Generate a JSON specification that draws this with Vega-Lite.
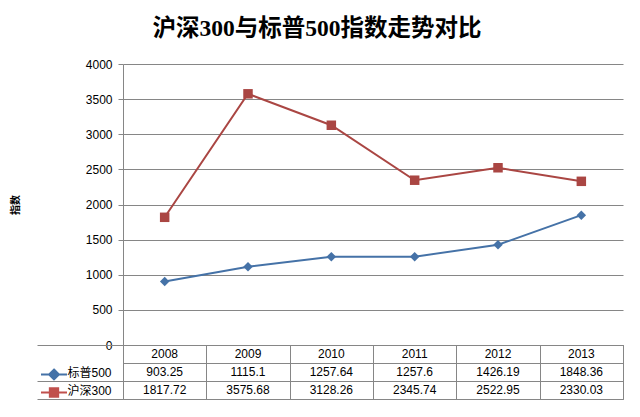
{
  "$schema": "https://vega.github.io/schema/vega-lite/v6.json",
  "padding": {"left": 10, "top": 16, "right": 17, "bottom": 5},
  "background": "#ffffff",
  "title": {
    "text": "沪深300与标普500指数走势对比",
    "font": "Liberation Serif, Noto Sans CJK SC",
    "fontSize": 23.5,
    "fontWeight": "bold",
    "color": "#000000",
    "anchor": "middle",
    "offset": 18
  },
  "datasets": {
    "d": [
      {"year": "2008", "series": "标普500", "value": 903.25},
      {"year": "2009", "series": "标普500", "value": 1115.1},
      {"year": "2010", "series": "标普500", "value": 1257.64},
      {"year": "2011", "series": "标普500", "value": 1257.6},
      {"year": "2012", "series": "标普500", "value": 1426.19},
      {"year": "2013", "series": "标普500", "value": 1848.36},
      {"year": "2008", "series": "沪深300", "value": 1817.72},
      {"year": "2009", "series": "沪深300", "value": 3575.68},
      {"year": "2010", "series": "沪深300", "value": 3128.26},
      {"year": "2011", "series": "沪深300", "value": 2345.74},
      {"year": "2012", "series": "沪深300", "value": 2522.95},
      {"year": "2013", "series": "沪深300", "value": 2330.03}
    ]
  },
  "spacing": 0,
  "bounds": "flush",
  "resolve": {
    "scale": {"shape": "independent", "color": "independent", "fill": "independent", "stroke": "independent"},
    "legend": {"shape": "independent", "color": "independent", "fill": "independent", "stroke": "independent"}
  },
  "vconcat": [
    {
      "width": 500,
      "height": 281,
      "view": {"stroke": null},
      "data": {"name": "d"},
      "encoding": {
        "x": {"field": "year", "type": "ordinal", "scale": {"type": "point", "padding": 0.5}, "axis": null},
        "y": {
          "field": "value", "type": "quantitative",
          "scale": {"domain": [0, 4000], "nice": false, "zero": true},
          "axis": {
            "values": [0, 500, 1000, 1500, 2000, 2500, 3000, 3500, 4000],
            "format": "d",
            "title": "指数",
            "titleFont": "Noto Sans CJK SC",
            "titleFontSize": 10,
            "titleFontWeight": "bold",
            "titleColor": "#000000",
            "titlePadding": 65,
            "labelFont": "Liberation Sans",
            "labelFontSize": 12,
            "labelColor": "#000000",
            "labelPadding": 6,
            "tickSize": 5,
            "tickColor": "#868686",
            "domainColor": "#868686",
            "grid": true,
            "gridColor": "#868686",
            "gridWidth": 1
          }
        },
        "color": {
          "field": "series", "type": "nominal",
          "scale": {"domain": ["标普500", "沪深300"], "range": ["#4572A7", "#AA4643"]},
          "legend": null
        }
      },
      "layer": [
        {"mark": {"type": "line", "strokeWidth": 2}},
        {
          "mark": {"type": "point", "filled": true, "opacity": 1, "size": 90},
          "encoding": {
            "shape": {
              "field": "series", "type": "nominal",
              "scale": {"domain": ["标普500", "沪深300"], "range": ["diamond", "square"]},
              "legend": null
            }
          }
        }
      ]
    },
    {
      "width": 500,
      "height": 54,
      "view": {"stroke": "#868686"},
      "data": {"name": "d"},
      "resolve": {
        "scale": {"fill": "independent", "stroke": "independent"},
        "legend": {"fill": "independent", "stroke": "independent"}
      },
      "encoding": {
        "x": {
          "field": "year", "type": "ordinal",
          "scale": {"type": "band", "paddingInner": 0, "paddingOuter": 0},
          "axis": {"orient": "top", "grid": true, "tickBand": "extent", "labels": false, "ticks": false, "domain": false, "gridColor": "#868686", "title": null}
        }
      },
      "layer": [
        {
          "mark": {"type": "text", "font": "Liberation Sans", "fontSize": 12, "color": "#000000"},
          "encoding": {
            "y": {
              "field": "series", "type": "nominal",
              "scale": {"domain": ["hdr", "标普500", "沪深300"], "paddingInner": 0, "paddingOuter": 0},
              "axis": {
                "title": null,
                "domain": false,
                "grid": true,
                "gridColor": "#868686",
                "tickBand": "extent",
                "tickSize": 86,
                "tickColor": "#868686",
                "tickOpacity": {"condition": {"test": "datum.value === 'hdr'", "value": 0}, "value": 1},
                "labelExpr": "datum.value === 'hdr' ? '' : datum.value",
                "labelAlign": "left",
                "labelPadding": -30,
                "labelFont": "Liberation Sans, Noto Sans CJK SC",
                "labelFontSize": 12,
                "labelColor": "#000000"
              }
            },
            "text": {"field": "value", "type": "nominal"}
          }
        },
        {
          "transform": [{"filter": "datum.series === '标普500'"}],
          "mark": {"type": "text", "font": "Liberation Sans", "fontSize": 12, "color": "#000000"},
          "encoding": {
            "y": {"datum": "hdr", "type": "nominal"},
            "text": {"field": "year", "type": "nominal"}
          }
        },
        {
          "transform": [{"filter": "datum.year === '2008' && datum.series === '标普500'"}],
          "mark": {"type": "point", "filled": true, "opacity": 0},
          "encoding": {
            "y": {"field": "series", "type": "nominal"},
            "fill": {
              "field": "series", "type": "nominal",
              "scale": {"domain": ["标普500"], "range": ["#4572A7"]},
              "legend": {"orient": "none", "legendX": -76.5, "legendY": 22, "title": null, "labelExpr": "''", "labelFontSize": 8, "symbolType": "M-2,0H2M0,-0.76L0.76,0L0,0.76L-0.76,0Z", "symbolSize": 169, "symbolStrokeWidth": 2, "symbolOpacity": 1, "padding": 0}
            },
            "stroke": {
              "field": "series", "type": "nominal",
              "scale": {"domain": ["标普500"], "range": ["#4572A7"]},
              "legend": {"orient": "none", "legendX": -76.5, "legendY": 22, "title": null, "labelExpr": "''", "labelFontSize": 8, "symbolType": "M-2,0H2M0,-0.76L0.76,0L0,0.76L-0.76,0Z", "symbolSize": 169, "symbolStrokeWidth": 2, "symbolOpacity": 1, "padding": 0}
            }
          }
        },
        {
          "transform": [{"filter": "datum.year === '2008' && datum.series === '沪深300'"}],
          "mark": {"type": "point", "filled": true, "opacity": 0},
          "encoding": {
            "y": {"field": "series", "type": "nominal"},
            "fill": {
              "field": "series", "type": "nominal",
              "scale": {"domain": ["沪深300"], "range": ["#C0504D"]},
              "legend": {"orient": "none", "legendX": -76.5, "legendY": 40, "title": null, "labelExpr": "''", "labelFontSize": 8, "symbolType": "M-2,0H2M-0.64,-0.64H0.64V0.64H-0.64Z", "symbolSize": 169, "symbolStrokeWidth": 2, "symbolOpacity": 1, "padding": 0}
            },
            "stroke": {
              "field": "series", "type": "nominal",
              "scale": {"domain": ["沪深300"], "range": ["#C0504D"]},
              "legend": {"orient": "none", "legendX": -76.5, "legendY": 40, "title": null, "labelExpr": "''", "labelFontSize": 8, "symbolType": "M-2,0H2M-0.64,-0.64H0.64V0.64H-0.64Z", "symbolSize": 169, "symbolStrokeWidth": 2, "symbolOpacity": 1, "padding": 0}
            }
          }
        }
      ]
    }
  ]
}
